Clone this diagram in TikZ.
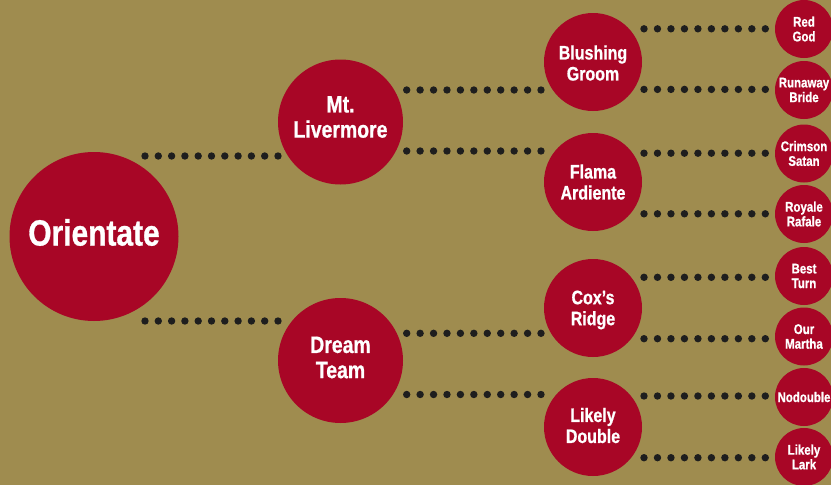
\documentclass[tikz,border=0pt]{standalone}
\usepackage{fontspec}
\newfontfamily\condfont{Liberation Sans}[FakeStretch=0.82,FakeBold=0.8]
\definecolor{bgcol}{RGB}{159,140,79}
\definecolor{wine}{RGB}{168,6,38}
\definecolor{dotcol}{RGB}{30,30,30}
\begin{document}
\begin{tikzpicture}[x=1pt,y=-1pt,
  circ/.style={circle, fill=wine, draw=none, inner sep=0pt},
  bigc/.style={circ, minimum size=169pt},
  midc/.style={circ, minimum size=125pt},
  thirdc/.style={circ, minimum size=98pt},
  smallc/.style={circ, minimum size=58pt},
  labA/.style={text=white, align=center, inner sep=0pt, font=\condfont\bfseries\fontsize{36.5}{38}\selectfont},
  labB/.style={text=white, align=center, inner sep=0pt, font=\condfont\bfseries\fontsize{23.7}{25.2}\selectfont},
  labC/.style={text=white, align=center, inner sep=0pt, font=\condfont\bfseries\fontsize{19.5}{21}\selectfont},
  labD/.style={text=white, align=center, inner sep=0pt, font=\condfont\bfseries\fontsize{14}{14.7}\selectfont},
  dotrow/.style={draw=dotcol, line width=7.4pt, line cap=round, dash pattern=on 0pt off #1}
]
\useasboundingbox (0,0) rectangle (831,485);
\fill[bgcol] (0,0) rectangle (831,485);

% connector end points
\coordinate (o1s) at (145,156);   \coordinate (o1e) at (278.5,156);
\coordinate (o2s) at (145,321);   \coordinate (o2e) at (278.5,321);
\coordinate (m1s) at (406.7,90);  \coordinate (m1e) at (541.5,90);
\coordinate (m2s) at (406.7,151); \coordinate (m2e) at (541.5,151);
\coordinate (d1s) at (406.7,333.3); \coordinate (d1e) at (541.5,333.3);
\coordinate (d2s) at (406.7,394.5); \coordinate (d2e) at (541.5,394.5);
\coordinate (r1s) at (644,28.8);  \coordinate (r1e) at (765.8,28.8);
\coordinate (r2s) at (644,89.4);  \coordinate (r2e) at (765.8,89.4);
\coordinate (r3s) at (644,153.2); \coordinate (r3e) at (765.8,153.2);
\coordinate (r4s) at (644,213.8); \coordinate (r4e) at (765.8,213.8);
\coordinate (r5s) at (644,277.3); \coordinate (r5e) at (765.8,277.3);
\coordinate (r6s) at (644,338.7); \coordinate (r6e) at (765.8,338.7);
\coordinate (r7s) at (644,396);   \coordinate (r7e) at (765.8,396);
\coordinate (r8s) at (644,457.7); \coordinate (r8e) at (765.8,457.7);

\draw[dotrow=13.3pt] (o1s) -- (o1e);
\draw[dotrow=13.3pt] (o2s) -- (o2e);
\draw[dotrow=13.43pt] (m1s) -- (m1e);
\draw[dotrow=13.43pt] (m2s) -- (m2e);
\draw[dotrow=13.43pt] (d1s) -- (d1e);
\draw[dotrow=13.43pt] (d2s) -- (d2e);
\foreach \i in {1,...,8}{\draw[dotrow=13.48pt] (r\i s) -- (r\i e);}

% circles
\node[bigc] (orient) at (94,236.5) {};
\node[midc] (mtl) at (340.5,122) {};
\node[midc] (dream) at (340.5,360.5) {};
\node[thirdc] (blush) at (593,62) {};
\node[thirdc] (flama) at (593,182) {};
\node[thirdc] (cox) at (593,308) {};
\node[thirdc] (likely) at (593,427) {};
\node[smallc] (redgod) at (804,29) {};
\node[smallc] (runaway) at (804,90) {};
\node[smallc] (crimson) at (804,153.5) {};
\node[smallc] (royale) at (804,214) {};
\node[smallc] (bestturn) at (804,276) {};
\node[smallc] (ourmartha) at (804,336.5) {};
\node[smallc] (nodouble) at (804,397) {};
\node[smallc] (likelylark) at (804,457) {};

% labels
\node[labA, yshift=4pt] (orientT) at (orient) {Orientate};
\node[labB, yshift=5pt] (mtlT) at (mtl) {Mt.\\Livermore};
\node[labB, yshift=3pt] (dreamT) at (dream) {Dream\\Team};
\node[labC, yshift=-1pt] (blushT) at (blush) {Blushing\\Groom};
\node[labC] (flamaT) at (flama) {Flama\\Ardiente};
\node[labC] (coxT) at (cox) {Cox’s\\Rid\smash{g}e};
\node[labC, yshift=1.5pt] (likelyT) at (likely) {Likely\\Double};
\node[labD] (redgodT) at (redgod) {Red\\God};
\node[labD] (runawayT) at (runaway) {Runaway\\Bride};
\node[labD] (crimsonT) at (crimson) {Crimson\\Satan};
\node[labD] (royaleT) at (royale) {Royale\\Rafale};
\node[labD] (bestturnT) at (bestturn) {Best\\Turn};
\node[labD] (ourmarthaT) at (ourmartha) {Our\\Martha};
\node[labD] (nodoubleT) at (nodouble) {Nodouble};
\node[labD] (likelylarkT) at (likelylark) {Likely\\Lark};
\end{tikzpicture}
\end{document}
